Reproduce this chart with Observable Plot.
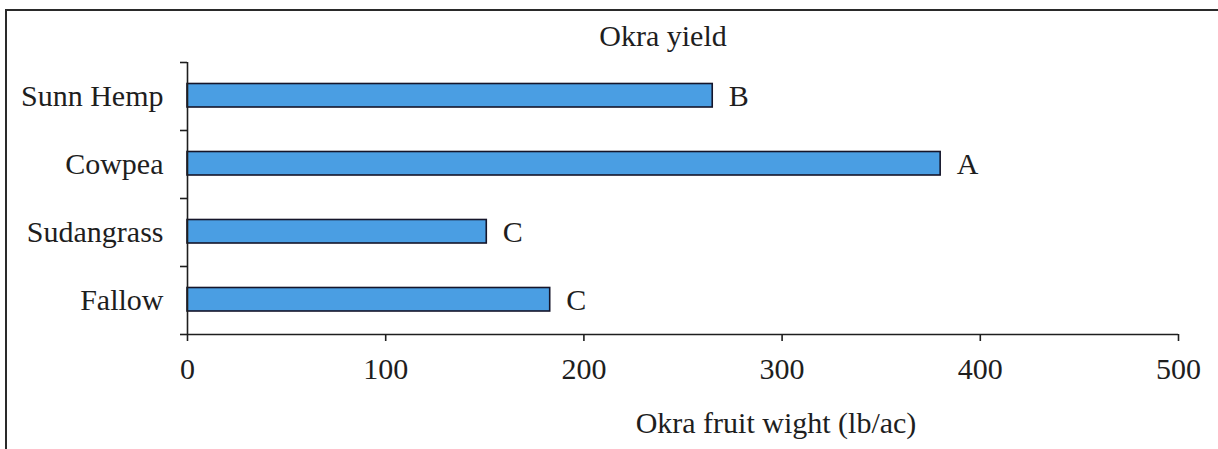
<!DOCTYPE html>
<html>
<head>
<meta charset="utf-8">
<script src="https://cdn.jsdelivr.net/npm/d3@7"></script>
<script src="https://cdn.jsdelivr.net/npm/@observablehq/plot@0.6"></script>
<style>
  html, body { margin: 0; padding: 0; background: #fff; }
  #wrap { position: relative; width: 1218px; height: 449px; overflow: hidden; }
  #frame { position: absolute; left: 5px; top: 9px; right: -5px; bottom: -5px;
           border-top: 2px solid #2a2a2a; border-left: 2px solid #2a2a2a; pointer-events: none; }
  svg { display: block; }
</style>
</head>
<body>
<div id="wrap"><div id="frame"></div></div>
<script>
const title = "Okra yield";
const xLabel = "Okra fruit wight (lb/ac)";
const categories = ["Sunn Hemp", "Cowpea", "Sudangrass", "Fallow"];
const values = [265, 380, 151, 183];
const letters = ["B", "A", "C", "C"];
const xTicks = [0, 100, 200, 300, 400, 500];

const data = categories.map((c, i) => ({cat: c, i, value: values[i], letter: letters[i]}));
const font = "'Liberation Serif', 'Times New Roman', serif";
const ink = "#1e1e1e";

const chart = Plot.plot({
  width: 1218,
  height: 449,
  marginLeft: 187,
  marginRight: 40,
  marginTop: 62,
  marginBottom: 115,
  style: {fontFamily: font, fontSize: "30px", color: ink, background: "transparent"},
  x: {domain: [0, 500]},
  y: {domain: [0, categories.length], reverse: true},
  marks: [
    Plot.rectX(data, {x1: 0, x2: "value", y1: d => d.i, y2: d => d.i + 1, insetTop: 21.5, insetBottom: 23,
      fill: "#4a9ee3", stroke: "#15152a", strokeWidth: 1.6}),
    Plot.text(data, {x: "value", y: d => d.i + 0.5, text: "letter", textAnchor: "start", dx: 16,
      fontSize: 30, fill: ink}),
    Plot.axisX({ticks: xTicks, tickSize: 7, tickPadding: 16, tickFormat: d3.format("d"),
      label: null, stroke: ink, strokeWidth: 1.6, fill: ink}),
    Plot.ruleY([categories.length], {stroke: ink, strokeWidth: 1.6, x1: 0, x2: 500}),
    Plot.ruleX([0], {stroke: ink, strokeWidth: 1.6}),
    Plot.axisY({ticks: d3.range(categories.length + 1), tickSize: 7, tickFormat: () => "",
      label: null, stroke: ink, strokeWidth: 1.6}),
    Plot.axisY({ticks: categories.map((c, i) => i + 0.5), tickSize: 0, tickPadding: 24,
      tickFormat: (d) => categories[Math.floor(d)], label: null, fill: ink}),
    Plot.text([title], {frameAnchor: "top", dy: -38, dx: -20, fontSize: 30, fill: ink}),
    Plot.text([xLabel], {frameAnchor: "bottom", dy: 98, dx: 93, fontSize: 30, fill: ink})
  ]
});
document.getElementById("wrap").prepend(chart);
</script>
</body>
</html>
